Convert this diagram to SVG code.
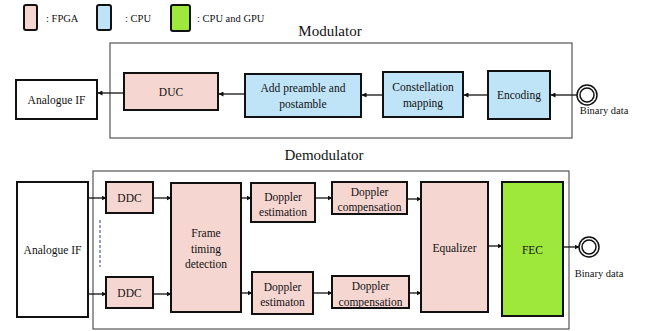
<svg xmlns="http://www.w3.org/2000/svg" width="649" height="331" viewBox="0 0 649 331">
<defs>
<style>
text{font-family:'Liberation Serif','DejaVu Serif',serif;fill:#111;text-anchor:middle}
.t{font-size:11.5px}
.s{font-size:10.5px}
.h{font-size:15px}
.lg{font-size:10.5px;text-anchor:start}
.n{stroke:#111;stroke-width:2}
.fpga{fill:#f6d6d1}
.cpu{fill:#bfe4f8}
.gpu{fill:#9de83a}
.wh{fill:#fff}
.frame{fill:none;stroke:#555;stroke-width:1.2}
.c{stroke:#111;stroke-width:1.3;fill:none;marker-end:url(#ah)}
</style>
<marker id="ah" viewBox="0 0 10 10" refX="9" refY="5" markerWidth="5" markerHeight="5" orient="auto" markerUnits="userSpaceOnUse">
<path d="M0,0 L10,5 L0,10 z" fill="#111"/>
</marker>
</defs>
<rect width="649" height="331" fill="#fff"/>
<g font-family="Liberation Serif, DejaVu Serif, serif">
<g id="legend">
<rect x="24" y="5" width="13" height="25" rx="2" class="n fpga"/>
<text x="46" y="22" class="lg">: FPGA</text>
<rect x="97" y="5" width="14" height="25" rx="2" class="n cpu"/>
<text x="125" y="22" class="lg">: CPU</text>
<rect x="171" y="5" width="19" height="26" rx="2" class="n gpu"/>
<text x="197" y="22" class="lg">: CPU and GPU</text>
</g>
<g id="modulator">
<text x="330" y="36" class="h">Modulator</text>
<rect x="110" y="43" width="462" height="95" class="frame"/>
</g>
<g id="demodulator">
<text x="324" y="160" class="h">Demodulator</text>
<rect x="93" y="171" width="476" height="158" class="frame"/>
</g>
<g id="connectors">
<line x1="124" y1="93" x2="98" y2="93" class="c"/>
<line x1="245" y1="94" x2="219" y2="94" class="c"/>
<line x1="383" y1="95" x2="362" y2="95" class="c"/>
<line x1="488" y1="95" x2="464" y2="95" class="c"/>
<line x1="577" y1="95" x2="551" y2="95" class="c"/>
<line x1="88" y1="198" x2="106" y2="198" class="c"/>
<line x1="88" y1="294" x2="106" y2="294" class="c"/>
<line x1="153" y1="198" x2="171" y2="198" class="c"/>
<line x1="153" y1="294" x2="171" y2="294" class="c"/>
<line x1="241" y1="198" x2="251" y2="198" class="c"/>
<line x1="241" y1="293" x2="252" y2="293" class="c"/>
<line x1="315" y1="198" x2="332" y2="198" class="c"/>
<line x1="313" y1="293" x2="332" y2="293" class="c"/>
<line x1="407" y1="199" x2="421" y2="199" class="c"/>
<line x1="409" y1="293" x2="421" y2="293" class="c"/>
<line x1="488" y1="246" x2="502" y2="246" class="c"/>
<line x1="563" y1="247" x2="579" y2="247" class="c"/>
<line x1="100" y1="220" x2="100" y2="267" stroke="#2b3f9e" stroke-width="1" stroke-dasharray="3,2"/>
</g>
<g id="mod-analogue-if">
<rect x="16" y="80" width="81" height="39" class="n wh"/>
<text x="56.5" y="104" class="t">Analogue IF</text>
</g>
<g id="duc">
<rect x="124" y="73" width="94" height="37" class="n fpga"/>
<text x="171" y="96" class="t">DUC</text>
</g>
<g id="add-preamble">
<rect x="245" y="74" width="116" height="43" class="n cpu"/>
<text x="303" y="92" class="t">Add preamble and</text>
<text x="303" y="108" class="t">postamble</text>
</g>
<g id="constellation">
<rect x="383" y="72" width="80" height="45" class="n cpu"/>
<text x="423" y="91" class="t">Constellation</text>
<text x="423" y="107" class="t">mapping</text>
</g>
<g id="encoding">
<rect x="488" y="71" width="62" height="48" class="n cpu"/>
<text x="519" y="99" class="t">Encoding</text>
</g>
<g id="mod-binary">
<circle cx="587" cy="95" r="10" fill="#fff" stroke="#111" stroke-width="1.5"/>
<circle cx="587" cy="95" r="7" fill="#fff" stroke="#111" stroke-width="1.5"/>
<text x="604" y="114" class="s">Binary data</text>
</g>
<g id="demod-analogue-if">
<rect x="17" y="182" width="71" height="135" class="n wh"/>
<text x="52.5" y="254" class="t">Analogue IF</text>
</g>
<g id="ddc1">
<rect x="106" y="182" width="47" height="31" class="n fpga"/>
<text x="129.5" y="202" class="t">DDC</text>
</g>
<g id="ddc2">
<rect x="106" y="277" width="47" height="31" class="n fpga"/>
<text x="129.5" y="297" class="t">DDC</text>
</g>
<g id="frame-timing">
<rect x="171" y="183" width="70" height="129" class="n fpga"/>
<text x="206" y="237" class="t">Frame</text>
<text x="206" y="253" class="t">timing</text>
<text x="206" y="268" class="t">detection</text>
</g>
<g id="doppler-est1">
<rect x="251" y="183" width="64" height="39" class="n fpga"/>
<text x="283" y="201" class="t">Doppler</text>
<text x="283" y="216" class="t">estimation</text>
</g>
<g id="doppler-est2">
<rect x="252" y="272" width="61" height="42" class="n fpga"/>
<text x="282.5" y="291" class="t">Doppler</text>
<text x="282.5" y="306" class="t">estimaton</text>
</g>
<g id="doppler-comp1">
<rect x="332" y="182" width="75" height="32" class="n fpga"/>
<text x="369.5" y="196" class="t">Doppler</text>
<text x="369.5" y="211" class="t">compensation</text>
</g>
<g id="doppler-comp2">
<rect x="332" y="276" width="77" height="32" class="n fpga"/>
<text x="370.5" y="290" class="t">Doppler</text>
<text x="370.5" y="306" class="t">compensation</text>
</g>
<g id="equalizer">
<rect x="421" y="182" width="67" height="130" class="n fpga"/>
<text x="454.5" y="252" class="t">Equalizer</text>
</g>
<g id="fec">
<rect x="502" y="182" width="61" height="134" class="n gpu"/>
<text x="532.5" y="254" class="t">FEC</text>
</g>
<g id="demod-binary">
<circle cx="589" cy="247" r="10" fill="#fff" stroke="#111" stroke-width="1.5"/>
<circle cx="589" cy="247" r="7" fill="#fff" stroke="#111" stroke-width="1.5"/>
<text x="599" y="277" class="s">Binary data</text>
</g>
</g>
</svg>
